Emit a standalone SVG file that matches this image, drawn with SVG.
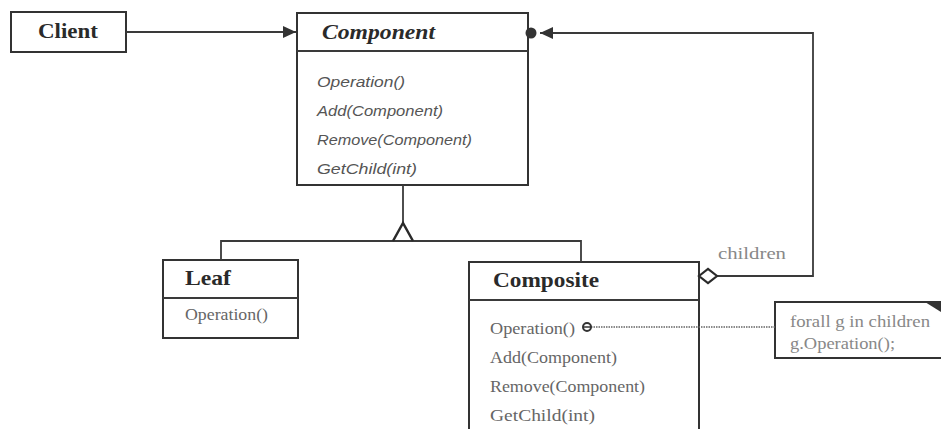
<svg xmlns="http://www.w3.org/2000/svg" width="941" height="429" viewBox="0 0 941 429">
<style>
.box{fill:#fff;stroke:#333;stroke-width:2}
.ln{fill:none;stroke:#3a3a3a;stroke-width:1.8}
.title{font-family:"Liberation Serif",serif;font-weight:bold;fill:#2a2a2a;font-size:22px}
.ital{font-family:"Liberation Sans",sans-serif;font-style:italic;fill:#555;font-size:14px}
.op{font-family:"Liberation Serif",serif;fill:#666;font-size:16px}
.lbl{font-family:"Liberation Serif",serif;fill:#888;font-size:16px}
</style>
<defs>
<marker id="arr" markerWidth="14" markerHeight="12" refX="13" refY="6" orient="auto" markerUnits="userSpaceOnUse">
<path d="M0,0 L13,6 L0,12 Z" fill="#333"/>
</marker>
</defs>
<g id="client">
<rect class="box" x="11" y="12" width="115" height="40"/>
<text class="title" x="38" y="38" font-size="21" textLength="60" lengthAdjust="spacingAndGlyphs">Client</text>
</g>
<g id="component">
<rect class="box" x="297" y="13" width="231" height="172"/>
<line class="ln" x1="297" y1="51" x2="528" y2="51"/>
<text class="title" x="322" y="39" font-style="italic" textLength="113" lengthAdjust="spacingAndGlyphs">Component</text>
<text class="ital" x="317" y="87" textLength="88" lengthAdjust="spacingAndGlyphs">Operation()</text>
<text class="ital" x="317" y="116" textLength="126" lengthAdjust="spacingAndGlyphs">Add(Component)</text>
<text class="ital" x="317" y="145" textLength="155" lengthAdjust="spacingAndGlyphs">Remove(Component)</text>
<text class="ital" x="317" y="174" textLength="100" lengthAdjust="spacingAndGlyphs">GetChild(int)</text>
</g>
<g id="leaf">
<rect class="box" x="163" y="260" width="135" height="78"/>
<line class="ln" x1="163" y1="298" x2="298" y2="298"/>
<text class="title" x="185" y="285" textLength="46" lengthAdjust="spacingAndGlyphs">Leaf</text>
<text class="op" x="185" y="320" font-size="15" textLength="83" lengthAdjust="spacingAndGlyphs">Operation()</text>
</g>
<g id="composite">
<rect class="box" x="469" y="262" width="230" height="180"/>
<line class="ln" x1="469" y1="300" x2="699" y2="300"/>
<text class="title" x="493" y="287" textLength="106" lengthAdjust="spacingAndGlyphs">Composite</text>
<text class="op" x="490" y="334" textLength="85" lengthAdjust="spacingAndGlyphs">Operation()</text>
<text class="op" x="490" y="363" textLength="127" lengthAdjust="spacingAndGlyphs">Add(Component)</text>
<text class="op" x="490" y="392" textLength="155" lengthAdjust="spacingAndGlyphs">Remove(Component)</text>
<text class="op" x="490" y="421" textLength="105" lengthAdjust="spacingAndGlyphs">GetChild(int)</text>
</g>
<g id="note">
<rect class="box" x="775" y="302" width="180" height="56"/>
<path d="M925,302 L941,302 L941,312 Z" fill="#333"/>
<text class="lbl" x="790" y="327" font-size="15" fill="#777" textLength="140" lengthAdjust="spacingAndGlyphs">forall g in children</text>
<text class="lbl" x="790" y="349" font-size="15" fill="#777" textLength="105" lengthAdjust="spacingAndGlyphs">g.Operation();</text>
</g>
<g id="connectors">
<line class="ln" x1="126" y1="32" x2="296" y2="32" marker-end="url(#arr)"/>
<polyline class="ln" points="717,276 813,276 813,33 540,33" marker-end="url(#arr)"/>
<line class="ln" x1="403" y1="185" x2="403" y2="223"/>
<polyline class="ln" points="221,260 221,241 581,241 581,262"/>
<path d="M393,241 L403,223 L413,241" fill="none" stroke="#2a2a2a" stroke-width="2.5"/>
<path d="M699,276 L708,269 L717,276 L708,283 Z" fill="#fff" stroke="#2a2a2a" stroke-width="2.2"/>
<circle cx="531" cy="33" r="5.5" fill="#333"/>
<line x1="591" y1="327" x2="775" y2="327" stroke="#666" stroke-width="1.5" stroke-dasharray="1.5,1"/>
<circle cx="587" cy="327" r="4" fill="#fff" stroke="#333" stroke-width="2"/>
<line x1="583" y1="327" x2="591" y2="327" stroke="#333" stroke-width="1.5"/>
<text class="lbl" x="718" y="259" textLength="68" lengthAdjust="spacingAndGlyphs">children</text>
</g>
</svg>
